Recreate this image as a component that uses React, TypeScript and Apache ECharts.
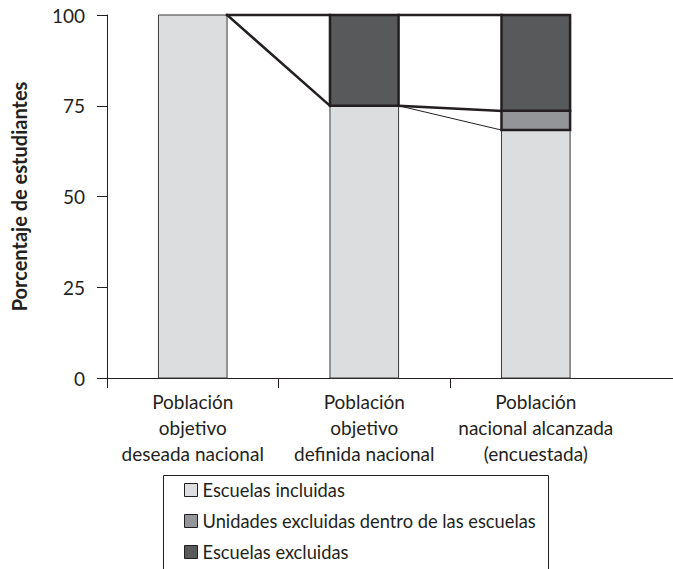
import React, { useEffect, useRef } from 'react';
import * as echarts from 'echarts';

const categories = [
  'Población\nobjetivo\ndeseada nacional',
  'Población\nobjetivo\ndefinida nacional',
  'Población\nnacional alcanzada\n(encuestada)',
];
const seriesNames = [
  'Escuelas incluidas',
  'Unidades excluidas dentro de las escuelas',
  'Escuelas excluidas',
];
const incluidas: (number | null)[] = [100, 75, 68.3];
const unidadesExcluidas: (number | null)[] = [null, null, 5.3];
const escuelasExcluidas: (number | null)[] = [null, 25, 26.4];
const yAxisTitle = 'Porcentaje de estudiantes';

const FONT = 'Lato, "Noto Sans", sans-serif';
const INK = '#231f20';

export default function App() {
  const ref = useRef<HTMLDivElement>(null);
  useEffect(() => {
    if (!ref.current) return;
    const chart = echarts.init(ref.current, undefined, { renderer: 'svg' });
    const val = (v: number | null) => (v == null ? 0 : v);
    const baseLight = categories.map(() => 0);
    const baseMedium = categories.map((_, i) => val(incluidas[i]));
    const baseDark = categories.map((_, i) => val(incluidas[i]) + val(unidadesExcluidas[i]));
    const totals = categories.map((_, i) => baseDark[i] + val(escuelasExcluidas[i]));

    const barSeries = (
      name: string,
      values: (number | null)[],
      bases: number[],
      fill: string,
      stroke: string,
      lw: number,
      z: number
    ) => ({
      name,
      type: 'custom',
      z,
      clip: false,
      silent: true,
      itemStyle: { color: fill, borderColor: stroke, borderWidth: lw },
      encode: { x: 0, y: [1, 2] },
      data: values
        .map((v, i) => (v == null ? null : [i + 0.5, bases[i], bases[i] + v]))
        .filter((d) => d !== null),
      renderItem: (params: any, api: any) => {
        const x = api.value(0);
        const b = api.value(1);
        const t = api.value(2);
        const hw = api.size([1, 0])[0] * 0.2;
        const p0 = api.coord([x, b]);
        const p1 = api.coord([x, t]);
        return {
          type: 'rect',
          shape: { x: p0[0] - hw, y: p1[1], width: 2 * hw, height: p0[1] - p1[1] },
          style: { fill, stroke, lineWidth: lw },
        };
      },
    });

    chart.setOption({
      animation: false,
      grid: { left: 107, right: 0, top: 15, bottom: 191, containLabel: false, outerBoundsMode: 'none' },
      xAxis: {
        type: 'value',
        min: 0,
        max: 3.3,
        axisLine: { show: true, onZero: false, lineStyle: { color: INK, width: 1 } },
        axisTick: { show: true, length: 10, customValues: [0, 1, 2], lineStyle: { color: INK, width: 1 } },
        axisLabel: {
          customValues: [0.5, 1.5, 2.5],
          formatter: (v: number) => categories[Math.floor(v)] ?? '',
          fontFamily: FONT,
          fontSize: 19,
          lineHeight: 26,
          color: INK,
          margin: 10,
          align: 'center',
        },
        splitLine: { show: false },
      },
      yAxis: {
        type: 'value',
        min: 0,
        max: 100,
        interval: 25,
        name: yAxisTitle,
        nameLocation: 'middle',
        nameGap: 78,
        nameTextStyle: { fontFamily: FONT, fontSize: 20, fontWeight: 'bold', color: INK },
        axisLine: { show: true, onZero: false, lineStyle: { color: INK, width: 1 } },
        axisTick: { show: true, length: 10, lineStyle: { color: INK, width: 1 } },
        axisLabel: { fontFamily: FONT, fontSize: 19, color: INK, margin: 22 },
        splitLine: { show: false },
      },
      legend: {
        data: seriesNames,
        orient: 'vertical',
        left: 184,
        top: 480,
        padding: 0,
        itemWidth: 13,
        itemHeight: 13,
        itemGap: 11,
        icon: 'rect',
        selectedMode: false,
        itemStyle: { borderColor: INK, borderWidth: 1 },
        textStyle: { fontFamily: FONT, fontSize: 18.3, color: INK, lineHeight: 20 },
      },
      graphic: [
        {
          type: 'rect',
          shape: { x: 163.5, y: 475.5, width: 385, height: 120 },
          style: { fill: 'none', stroke: INK, lineWidth: 1 },
          silent: true,
        },
      ],
      series: [
        barSeries(seriesNames[0], incluidas, baseLight, '#dcdddf', '#3a3a3a', 1, 2),
        barSeries(seriesNames[1], unidadesExcluidas, baseMedium, '#939598', INK, 2.5, 3),
        barSeries(seriesNames[2], escuelasExcluidas, baseDark, '#58595b', INK, 2.5, 4),
        {
          name: 'connectors',
          type: 'custom',
          z: 10,
          silent: true,
          clip: false,
          data: [[0, 0]],
          renderItem: (params: any, api: any) => {
            if (params.dataIndex !== 0) return null;
            const hw = api.size([1, 0])[0] * 0.2;
            const right = (i: number, v: number) => {
              const p = api.coord([i + 0.5, v]);
              return [p[0] + hw, p[1]];
            };
            const left = (i: number, v: number) => {
              const p = api.coord([i + 0.5, v]);
              return [p[0] - hw, p[1]];
            };
            const seg = (a: number[], b: number[], w: number) => ({
              type: 'line',
              shape: { x1: a[0], y1: a[1], x2: b[0], y2: b[1] },
              style: { stroke: INK, lineWidth: w, lineCap: 'square' },
            });
            const inc = incluidas.map(val);
            const unid = unidadesExcluidas.map(val);
            return {
              type: 'group',
              children: [
                seg(right(0, totals[0]), left(1, totals[1]), 2.5),
                seg(right(1, totals[1]), left(2, totals[2]), 2.5),
                seg(right(0, inc[0]), left(1, inc[1]), 2.5),
                seg(right(1, inc[1]), left(2, inc[2] + unid[2]), 2.5),
                seg(right(1, inc[1]), left(2, inc[2]), 1),
              ],
            };
          },
        },
      ],
    });
    return () => chart.dispose();
  }, []);
  return <div ref={ref} style={{ position: 'fixed', left: 0, top: 0, width: 673, height: 569, background: '#fff' }} />;
}
